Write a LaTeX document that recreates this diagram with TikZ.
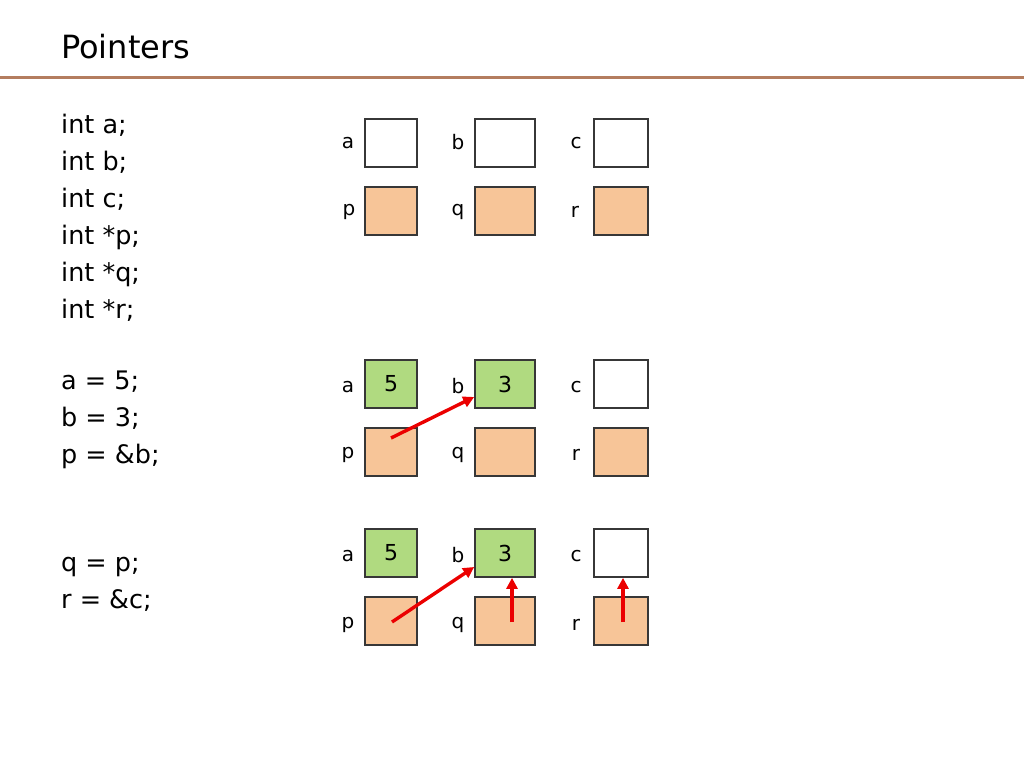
\documentclass[tikz,border=0pt]{standalone}
\usepackage{fontspec}
\setmainfont{DejaVu Sans}
\usetikzlibrary{arrows.meta,calc}
\definecolor{rule}{RGB}{180,125,95}
\definecolor{boxgreen}{RGB}{176,218,128}
\definecolor{boxorange}{RGB}{247,197,152}
\definecolor{boxedge}{RGB}{55,55,55}
\definecolor{ptrred}{RGB}{235,0,0}
\tikzset{
  cell/.style={draw=boxedge, line width=1.7pt, minimum width=52pt, minimum height=48pt, inner sep=0pt, font=\fontsize{22}{26}\selectfont},
  widecell/.style={cell, minimum width=60pt},
  cellc/.style={cell, minimum width=54pt},
  valcell/.style={fill=white},
  ptrcell/.style={fill=boxorange},
  setcell/.style={fill=boxgreen},
  lbl/.style={font=\fontsize{20}{24}\selectfont, inner sep=0pt},
  code/.style={font=\fontsize{25.5}{37}\selectfont, anchor=north west, align=left, inner sep=0pt},
  ptr/.style={draw=ptrred, line width=3.4pt, -{Triangle[length=11pt,width=11pt]}},
}
\begin{document}
\begin{tikzpicture}[x=1pt,y=-1pt]
\useasboundingbox (0,0) rectangle (1024,768);
% title
\node[anchor=west, inner sep=0pt, font=\fontsize{32}{36}\selectfont] (title) at (61,47) {Pointers};
\draw[rule, line width=3pt] (0,77) -- (1024,77);

% code
\node[code] (c1) at (61,114) {int a;\\int b;\\int c;\\int *p;\\int *q;\\int *r;};
\node[code] (c2) at (61,371) {a = 5;\\b = 3;\\p = \&b;};
\node[code] (c3) at (61,557) {q = p;\\r = \&c;};

% row set 1
\node[cell, valcell] (a1) at (391,143) {};
\node[widecell, valcell] (b1) at (505,143) {};
\node[cellc, valcell] (cc1) at (621,143) {};
\node[cell, ptrcell] (p1) at (391,211) {};
\node[widecell, ptrcell] (q1) at (505,211) {};
\node[cellc, ptrcell] (r1) at (621,211) {};
\node[lbl] (la1) at (348,143) {a};
\node[lbl] (lb1) at (458,142) {b};
\node[lbl] (lc1) at (576,143) {c};
\node[lbl] (lp1) at (349,212) {p};
\node[lbl] (lq1) at (458,212) {q};
\node[lbl] (lr1) at (575,212) {r};

% row set 2
\node[cell, setcell] (a2) at (391,384) {5};
\node[widecell, setcell] (b2) at (505,384) {3};
\node[cellc, valcell] (cc2) at (621,384) {};
\node[cell, ptrcell] (p2) at (391,452) {};
\node[widecell, ptrcell] (q2) at (505,452) {};
\node[cellc, ptrcell] (r2) at (621,452) {};
\node[lbl] (la2) at (348,387) {a};
\node[lbl] (lb2) at (458,386) {b};
\node[lbl] (lc2) at (576,387) {c};
\node[lbl] (lp2) at (348,455) {p};
\node[lbl] (lq2) at (458,455) {q};
\node[lbl] (lr2) at (576,455) {r};
\draw[ptr] ($(p2.center)+(0,-14)$) -- ($(b2.west)+(0,13)$);

% row set 3
\node[cell, setcell] (a3) at (391,553) {5};
\node[widecell, setcell] (b3) at (505,553) {3};
\node[cellc, valcell] (cc3) at (621,553) {};
\node[cell, ptrcell] (p3) at (391,621) {};
\node[widecell, ptrcell] (q3) at (505,621) {};
\node[cellc, ptrcell] (r3) at (621,621) {};
\node[lbl] (la3) at (348,556) {a};
\node[lbl] (lb3) at (458,555) {b};
\node[lbl] (lc3) at (576,556) {c};
\node[lbl] (lp3) at (348,625) {p};
\node[lbl] (lq3) at (458,625) {q};
\node[lbl] (lr3) at (576,625) {r};
\draw[ptr] ($(p3.center)+(1,1)$) -- ($(b3.west)+(0,14)$);
\draw[ptr] ($(q3.center)+(7,1)$) -- ($(b3.south)+(7,0)$);
\draw[ptr] ($(r3.center)+(2,1)$) -- ($(cc3.south)+(2,0)$);
\end{tikzpicture}
\end{document}
